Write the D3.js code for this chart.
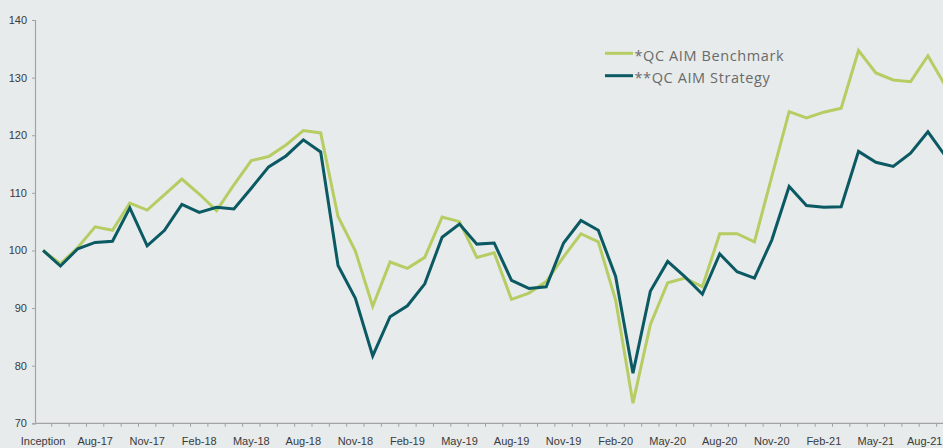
<!DOCTYPE html>
<html><head><meta charset="utf-8">
<script src="https://cdn.jsdelivr.net/npm/d3@7"></script>
<style>
html,body{margin:0;padding:0;background:#e7ebeb;}
svg{display:block;}
</style></head>
<body>
<svg id="chart" width="943" height="448"></svg>
<script>
const months = ["May-17","Jun-17","Jul-17","Aug-17","Sep-17","Oct-17","Nov-17","Dec-17","Jan-18","Feb-18","Mar-18","Apr-18","May-18","Jun-18","Jul-18","Aug-18","Sep-18","Oct-18","Nov-18","Dec-18","Jan-19","Feb-19","Mar-19","Apr-19","May-19","Jun-19","Jul-19","Aug-19","Sep-19","Oct-19","Nov-19","Dec-19","Jan-20","Feb-20","Mar-20","Apr-20","May-20","Jun-20","Jul-20","Aug-20","Sep-20","Oct-20","Nov-20","Dec-20","Jan-21","Feb-21","Mar-21","Apr-21","May-21","Jun-21","Jul-21","Aug-21","Sep-21"];
const benchmark = [100,97.7,100.5,104.1,103.5,108.2,107.0,109.7,112.4,109.8,106.9,111.4,115.6,116.3,118.3,120.8,120.4,105.9,99.9,90.3,98.0,96.9,98.8,105.8,105.0,98.8,99.6,91.5,92.6,94.6,98.9,102.9,101.5,91.4,73.5,87.1,94.4,95.2,93.7,102.9,102.9,101.5,112.8,124.1,123.0,124.0,124.7,134.7,130.8,129.6,129.3,133.8,128.6];
const strategy = [100,97.3,100.3,101.4,101.6,107.4,100.8,103.5,108.0,106.6,107.5,107.2,110.8,114.5,116.4,119.2,117.1,97.4,91.7,81.7,88.5,90.4,94.2,102.3,104.6,101.1,101.3,94.8,93.4,93.7,101.3,105.2,103.5,95.5,78.7,92.9,98.1,95.4,92.4,99.4,96.3,95.2,101.8,111.1,107.8,107.5,107.6,117.2,115.3,114.6,116.9,120.6,116.4];
const seriesNames = ["*QC AIM Benchmark","**QC AIM Strategy"];
const seriesColors = ["#b6cd63","#0b5962"];
const yTicks = [70,80,90,100,110,120,130,140];

const svg = d3.select("#chart");
const x = d3.scaleBand().domain(months).range([34.4, 34.4 + 17.35*months.length]).padding(0);
const y = d3.scaleLinear().domain([70,140]).range([423.3, 20]);
const axisColor = "#a3a3a3";

// y axis
const yAxis = d3.axisLeft(y).tickValues(yTicks).tickSize(3).tickPadding(5);
const gy = svg.append("g").attr("transform","translate(35,0)").call(yAxis);
gy.select(".domain").attr("stroke",axisColor).attr("stroke-width",1.2);
gy.selectAll(".tick line").attr("stroke",axisColor);
gy.selectAll(".tick text").attr("fill","#3a3a3a").style("font-family","'Liberation Sans',Arial,sans-serif").style("font-size","11px");

// x axis
const labelIdx = months.filter((m,i)=>i%3===0);
const xAxis = d3.axisBottom(x).tickValues(labelIdx).tickSize(0).tickPadding(14)
  .tickFormat((d,i)=> d==="May-17" ? "Inception" : d);
const gx = svg.append("g").attr("transform","translate(0,423.3)").call(xAxis);
gx.select(".domain").remove();
gx.selectAll(".tick text").attr("fill","#3a3a3a").style("font-family","'Liberation Sans',Arial,sans-serif").style("font-size","11px");
gx.selectAll(".tick text").filter(d=>d==="Aug-21").attr("text-anchor","end").attr("x",14.5);
gx.append("line").attr("x1",35).attr("x2",943).attr("y1",0).attr("y2",0).attr("stroke",axisColor).attr("stroke-width",1.2);
gx.selectAll(".bt").data(months).enter().append("line")
  .attr("x1",d=>x(d)+x.bandwidth()).attr("x2",d=>x(d)+x.bandwidth())
  .attr("y1",0).attr("y2",3.5).attr("stroke",axisColor);

// lines
const line = d3.line().x((d,i)=>x(months[i])+x.bandwidth()/2).y(d=>y(d));
[benchmark,strategy].forEach((s,k)=>{
  svg.append("path").datum(s).attr("d",line).attr("fill","none")
    .attr("stroke",seriesColors[k]).attr("stroke-width",3).attr("stroke-linejoin","miter");
});

// legend
seriesNames.forEach((n,k)=>{
  const yy = 53.3 + k*22.4;
  svg.append("line").attr("x1",605).attr("x2",633).attr("y1",yy).attr("y2",yy)
    .attr("stroke",seriesColors[k]).attr("stroke-width",3);
  svg.append("text").attr("x",634.5).attr("y",yy+7.3).text(n)
    .attr("fill","#6a6a6a").style("font-family","'Open Sans',sans-serif").style("font-size","14.5px")
    .style("letter-spacing","0.6px");
});
</script>
</body></html>
